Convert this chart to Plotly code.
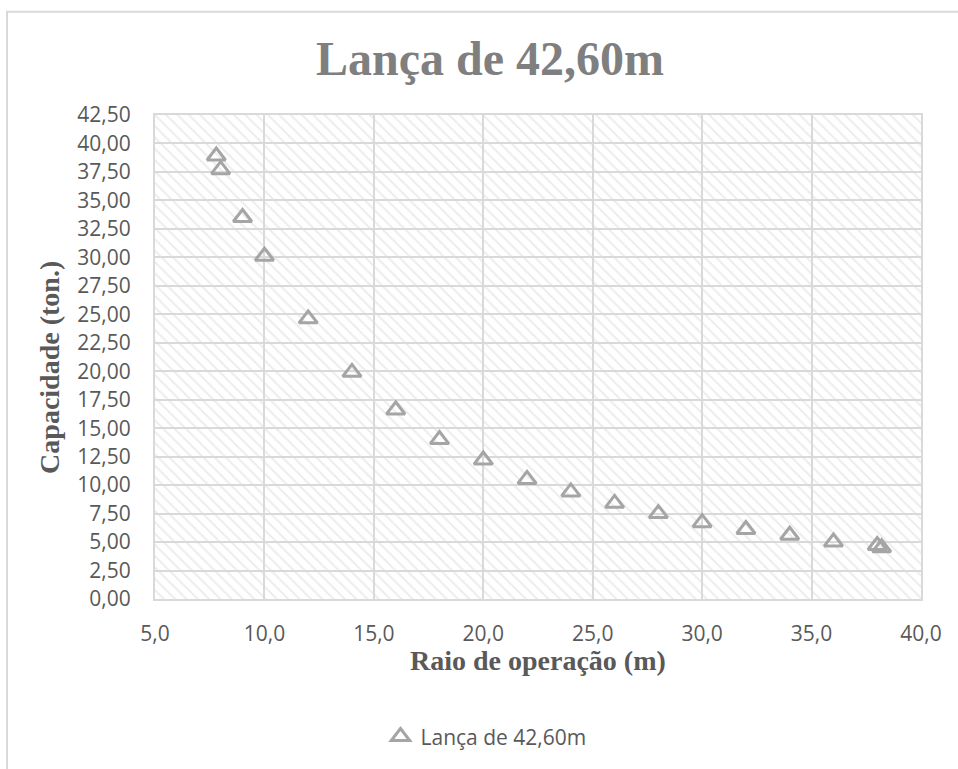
import plotly.graph_objects as go

# Load chart: operating radius (m) vs. lifting capacity (t)
raio = [7.8, 8.0, 9.0, 10.0, 12.0, 14.0, 16.0, 18.0, 20.0, 22.0,
        24.0, 26.0, 28.0, 30.0, 32.0, 34.0, 36.0, 38.0, 38.2]
capacidade = [38.9, 37.7, 33.5, 30.1, 24.6, 19.9, 16.6, 14.0, 12.2, 10.5,
              9.4, 8.4, 7.5, 6.7, 6.1, 5.6, 5.0, 4.7, 4.5]

serie_nome = "Lança de 42,60m"
titulo = "Lança de 42,60m"
titulo_x = "Raio de operação (m)"
titulo_y = "Capacidade (ton.)"

x_range = [5.0, 40.0]
y_range = [0.0, 42.5]
x_dtick = 5.0
y_dtick = 2.5

GRID = "#D9D9D9"
TEXT = "#595959"
MARKER = "#A5A5A5"

W, H = 958, 769
L, R, T, B = 155, 37, 115, 166
plot_w = W - L - R
plot_h = H - T - B


def px_to_paper_x(px):
    return (px - L) / plot_w


def px_to_paper_y(py):
    return (H - B - py) / plot_h


fig = go.Figure()

# Hatched plot-area background (downward diagonal pattern)
fig.add_trace(go.Scatter(
    x=[x_range[0], x_range[1], x_range[1], x_range[0], x_range[0]],
    y=[y_range[0], y_range[0], y_range[1], y_range[1], y_range[0]],
    mode="none",
    fill="toself",
    fillcolor="rgba(0,0,0,0)",
    fillpattern=dict(shape="\\", fgcolor="#DADADA", bgcolor="rgba(0,0,0,0)",
                     size=8, solidity=0.25),
    hoverinfo="skip",
    showlegend=False,
))

fig.add_trace(go.Scatter(
    x=raio,
    y=capacidade,
    mode="markers",
    name=serie_nome,
    marker=dict(symbol="triangle-up-open", size=16, color=MARKER,
                line=dict(color=MARKER, width=3)),
))

font_sans = "Open Sans"
font_serif = "Liberation Serif"

fig.update_layout(
    width=W,
    height=H,
    margin=dict(l=L, r=R, t=T, b=B),
    paper_bgcolor="white",
    plot_bgcolor="white",
    separators=",.",
    font=dict(family=font_sans, size=21, color=TEXT),
    title=dict(
        text=titulo,
        x=490 / W,
        xanchor="center",
        y=1 - 58 / H,
        yanchor="middle",
        xref="container",
        yref="container",
        font=dict(family=font_serif, size=48, color="#7F7F7F", weight="bold"),
    ),
    xaxis=dict(
        range=x_range,
        dtick=x_dtick,
        tick0=x_range[0],
        tickformat=".1f",
        showgrid=True,
        gridcolor=GRID,
        gridwidth=2,
        zeroline=False,
        showline=True,
        linecolor=GRID,
        linewidth=2,
        mirror=True,
        ticks="outside",
        ticklen=15,
        tickcolor="rgba(0,0,0,0)",
        tickfont=dict(family=font_sans, size=21, color=TEXT),
    ),
    yaxis=dict(
        range=y_range,
        dtick=y_dtick,
        tick0=y_range[0],
        tickformat=".2f",
        showgrid=True,
        gridcolor=GRID,
        gridwidth=2,
        zeroline=False,
        showline=True,
        linecolor=GRID,
        linewidth=2,
        mirror=True,
        ticks="outside",
        ticklen=18,
        tickcolor="rgba(0,0,0,0)",
        tickfont=dict(family=font_sans, size=21, color=TEXT),
    ),
    legend=dict(
        orientation="h",
        x=px_to_paper_x(486),
        xanchor="center",
        y=px_to_paper_y(742),
        yanchor="middle",
        font=dict(family=font_sans, size=21, color=TEXT),
        bgcolor="rgba(0,0,0,0)",
    ),
    showlegend=True,
)

# Axis titles
fig.add_annotation(
    text=titulo_x, xref="paper", yref="paper",
    x=px_to_paper_x(538), y=px_to_paper_y(665),
    xanchor="center", yanchor="middle", showarrow=False,
    font=dict(family=font_serif, size=28, color=TEXT, weight="bold"),
)
fig.add_annotation(
    text=titulo_y, xref="paper", yref="paper",
    x=px_to_paper_x(50), y=px_to_paper_y(370),
    xanchor="center", yanchor="middle", showarrow=False, textangle=-90,
    font=dict(family=font_serif, size=28, color=TEXT, weight="bold"),
)

# Chart-area border (top and left edges)
fig.add_shape(
    type="path",
    xref="paper", yref="paper",
    path=f"M {px_to_paper_x(7)} {px_to_paper_y(775)} "
         f"L {px_to_paper_x(7)} {px_to_paper_y(11)} "
         f"L {px_to_paper_x(965)} {px_to_paper_y(11)}",
    line=dict(color=GRID, width=2),
    layer="below",
)

fig.write_html("out.html")
